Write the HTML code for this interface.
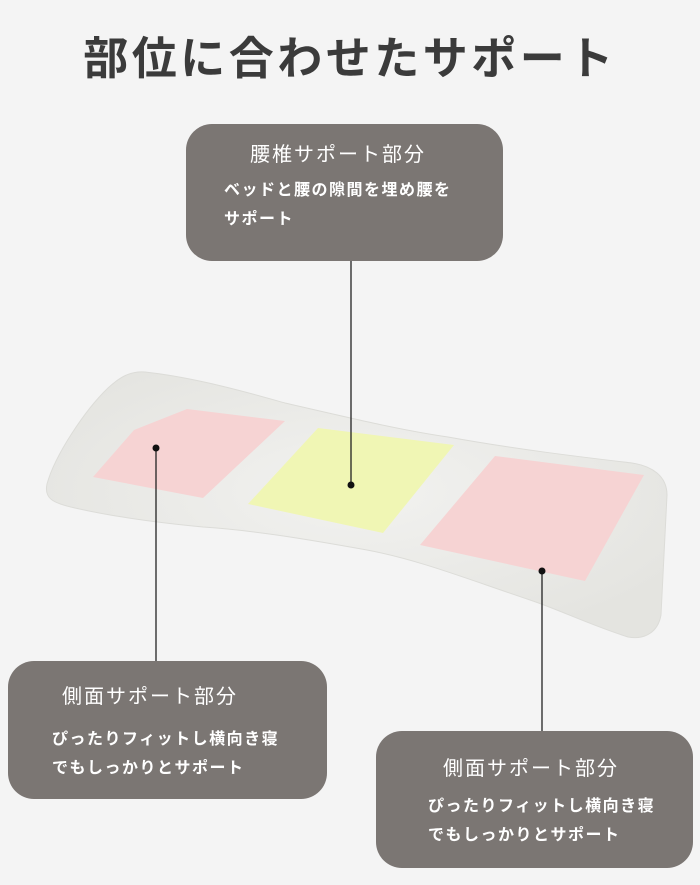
<!DOCTYPE html>
<html><head><meta charset="utf-8"><style>
body{margin:0;width:700px;height:885px;background:#f4f4f4;position:relative;overflow:hidden;font-family:"Liberation Sans","Noto Sans CJK JP",sans-serif;}
.t{position:absolute;left:0;width:700px;top:22px;text-align:center;font-size:45px;font-weight:bold;color:#3b3b3b;letter-spacing:3.5px}
.b{position:absolute;background:#7b7673;border-radius:26px;color:#fff}
.h{position:absolute;font-size:20px;letter-spacing:2px;white-space:nowrap}
.p{position:absolute;font-size:16px;line-height:29px;letter-spacing:1.5px;white-space:nowrap;font-weight:bold}
svg{position:absolute;left:0;top:0}
</style></head><body>
<div class="t">部位に合わせたサポート</div>
<svg width="700" height="885">
<defs><radialGradient id="g" cx="50%" cy="45%" r="60%"><stop offset="0" stop-color="#f2f2f0"/><stop offset="1" stop-color="#e4e4e0"/></radialGradient></defs>
<path d="M145,372 C200,378 260,396 285,403 C350,418 400,430 448,437 C520,450 590,458 632,463 C652,466 667,476 667,495 L661,615 C658,632 645,640 628,637 C590,625 560,610 530,600 C470,580 420,560 367,550 C300,538 250,530 203,527 C150,522 110,516 75,508 C52,503 44,498 47,484 C55,455 85,410 108,388 C120,377 130,371 145,372 Z" fill="url(#g)" stroke="#dcdcd8" stroke-width="1"/>
<polygon points="187,409 285,421 203,498 93,477 134,430" fill="#f6d3d3"/>
<polygon points="318,428 454,445 383,533 248,504" fill="#f0f6b4"/>
<polygon points="495,456 644,475 585,581 420,545" fill="#f6d3d3"/>
<g stroke="#222" stroke-width="1.3">
<line x1="351" y1="261" x2="351" y2="485"/>
<line x1="156" y1="448" x2="156" y2="661"/>
<line x1="542" y1="571" x2="542" y2="731"/>
</g>
<g fill="#111"><circle cx="351" cy="485" r="3.5"/><circle cx="156" cy="448" r="3.5"/><circle cx="542" cy="571" r="3.5"/></g>
</svg>
<div class="b" style="left:186px;top:124px;width:317px;height:137px">
<div class="h" style="left:64px;top:14px">腰椎サポート部分</div>
<div class="p" style="left:38px;top:52px">ベッドと腰の隙間を埋め腰を<br>サポート</div>
</div>
<div class="b" style="left:8px;top:661px;width:319px;height:138px">
<div class="h" style="left:54px;top:19px">側面サポート部分</div>
<div class="p" style="left:44px;top:64px">ぴったりフィットし横向き寝<br>でもしっかりとサポート</div>
</div>
<div class="b" style="left:376px;top:731px;width:317px;height:137px">
<div class="h" style="left:67px;top:21px">側面サポート部分</div>
<div class="p" style="left:52px;top:61px">ぴったりフィットし横向き寝<br>でもしっかりとサポート</div>
</div>
</body></html>
